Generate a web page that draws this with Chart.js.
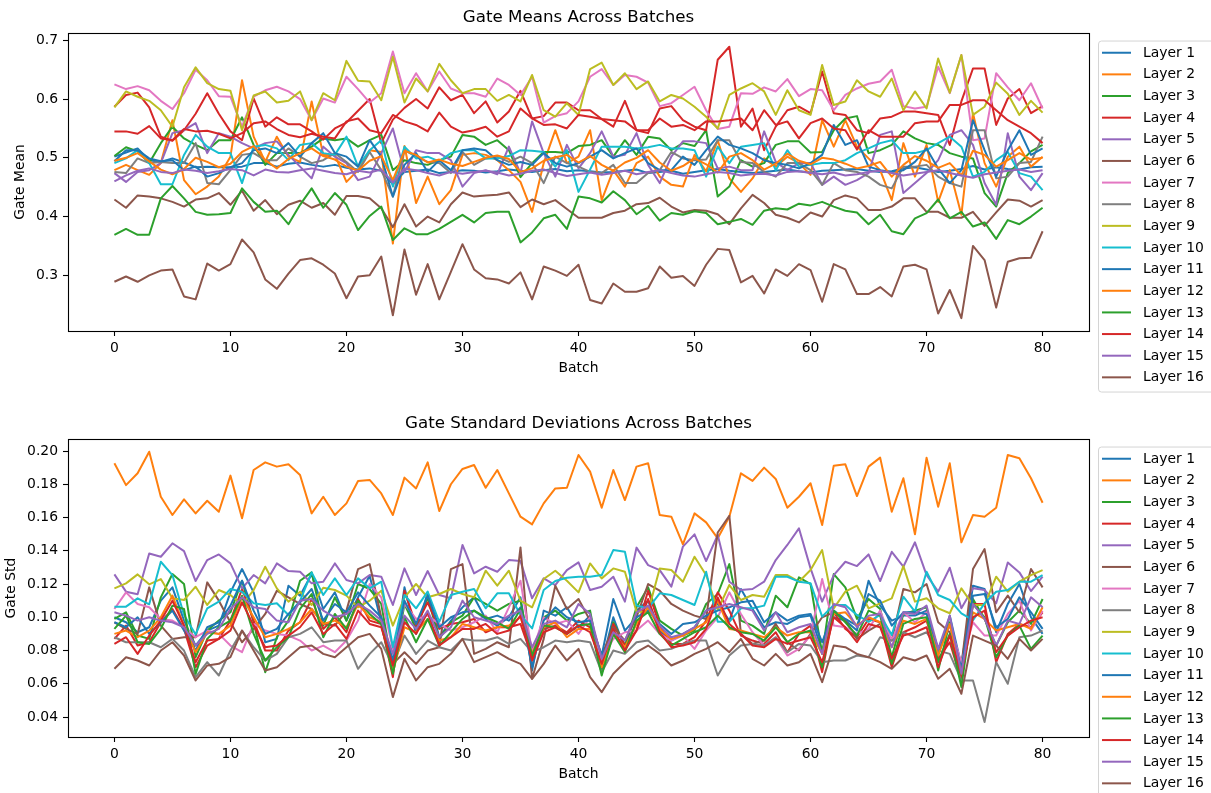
<!DOCTYPE html>
<html>
<head>
<meta charset="utf-8">
<script src="https://cdn.jsdelivr.net/npm/chart.js@4.4.1/dist/chart.umd.min.js"></script>
<style>
html, body { margin: 0; padding: 0; background: #fff; overflow: hidden; }
.panel { position: absolute; left: 0; width: 1211px; height: 406px; }
</style>
</head>
<body>
<div class="panel" style="top:0px"><canvas id="meanChart" width="1211" height="406"></canvas></div>
<div class="panel" style="top:406px"><canvas id="stdChart" width="1211" height="406"></canvas></div>
<script>
// batch index 0..80
var batches = Array.from({length: 81}, (_, i) => i);
var xTicks = [0, 10, 20, 30, 40, 50, 60, 70, 80];
var meanTicks = [0.3, 0.4, 0.5, 0.6, 0.7];
var stdTicks = [0.04, 0.06, 0.08, 0.10, 0.12, 0.14, 0.16, 0.18, 0.20];
var layerNames = ['Layer 1', 'Layer 2', 'Layer 3', 'Layer 4', 'Layer 5', 'Layer 6', 'Layer 7', 'Layer 8',
                  'Layer 9', 'Layer 10', 'Layer 11', 'Layer 12', 'Layer 13', 'Layer 14', 'Layer 15', 'Layer 16'];
var layerColors = ['#1f77b4', '#ff7f0e', '#2ca02c', '#d62728', '#9467bd', '#8c564b', '#e377c2', '#7f7f7f',
                   '#bcbd22', '#17becf', '#1f77b4', '#ff7f0e', '#2ca02c', '#d62728', '#9467bd', '#8c564b'];

// ---- gate means ----
var meanL1 = [0.502,0.509,0.516,0.496,0.493,0.499,0.492,0.484,0.485,0.484,0.484,0.485,0.491,0.491,0.485,0.490,0.492,0.488,0.485,0.488,
  0.483,0.480,0.482,0.478,0.455,0.476,0.478,0.480,0.474,0.476,0.479,0.478,0.475,0.477,0.480,0.478,0.476,0.479,0.481,0.477,0.479,
  0.477,0.475,0.476,0.478,0.480,0.474,0.476,0.478,0.473,0.476,0.479,0.481,0.478,0.476,0.474,0.476,0.478,0.480,0.477,0.475,0.478,
  0.479,0.480,0.481,0.478,0.476,0.477,0.482,0.484,0.480,0.476,0.478,0.481,0.486,0.480,0.484,0.481,0.480,0.484,0.485];
var meanL2 = [0.479,0.488,0.479,0.471,0.491,0.564,0.462,0.438,0.451,0.468,0.502,0.632,0.536,0.493,0.536,0.502,0.493,0.596,0.505,0.505,
  0.459,0.479,0.513,0.510,0.354,0.520,0.423,0.468,0.421,0.445,0.505,0.508,0.505,0.496,0.479,0.459,0.408,0.491,0.547,0.491,0.502,
  0.547,0.428,0.479,0.451,0.491,0.502,0.468,0.454,0.451,0.505,0.477,0.530,0.465,0.442,0.465,0.499,0.485,0.502,0.491,0.471,0.564,
  0.519,0.564,0.519,0.499,0.479,0.428,0.525,0.468,0.522,0.425,0.479,0.403,0.576,0.491,0.451,0.502,0.519,0.485,0.502];
var meanL3 = [0.503,0.518,0.511,0.491,0.525,0.553,0.533,0.522,0.513,0.530,0.530,0.569,0.522,0.488,0.508,0.508,0.508,0.519,0.533,0.530,
  0.533,0.519,0.530,0.539,0.479,0.496,0.491,0.488,0.496,0.502,0.539,0.536,0.522,0.530,0.513,0.467,0.491,0.510,0.510,0.508,0.520,
  0.522,0.530,0.502,0.530,0.505,0.536,0.533,0.513,0.525,0.520,0.547,0.434,0.451,0.496,0.485,0.491,0.522,0.528,0.528,0.509,0.510,
  0.547,0.567,0.571,0.508,0.513,0.522,0.545,0.533,0.525,0.522,0.508,0.502,0.499,0.440,0.417,0.474,0.491,0.511,0.522];
var meanL4 = [0.587,0.607,0.611,0.586,0.536,0.529,0.547,0.575,0.610,0.575,0.545,0.530,0.601,0.553,0.569,0.557,0.557,0.545,0.531,0.550,
  0.560,0.580,0.600,0.525,0.565,0.585,0.600,0.584,0.620,0.598,0.607,0.576,0.596,0.560,0.579,0.614,0.567,0.571,0.594,0.594,0.581,
  0.581,0.566,0.553,0.597,0.547,0.542,0.584,0.588,0.564,0.553,0.547,0.667,0.689,0.553,0.584,0.513,0.553,0.581,0.587,0.576,0.647,
  0.576,0.573,0.547,0.542,0.567,0.570,0.579,0.579,0.576,0.573,0.522,0.596,0.652,0.652,0.556,0.601,0.617,0.576,0.588];
var meanL5 = [0.474,0.459,0.476,0.479,0.491,0.542,0.547,0.559,0.508,0.542,0.536,0.525,0.516,0.525,0.528,0.505,0.485,0.465,0.519,0.502,
  0.491,0.462,0.468,0.508,0.550,0.476,0.513,0.508,0.508,0.496,0.451,0.474,0.479,0.472,0.519,0.474,0.562,0.508,0.468,0.522,0.482,
  0.508,0.545,0.502,0.505,0.542,0.488,0.457,0.502,0.528,0.528,0.525,0.482,0.485,0.479,0.479,0.545,0.493,0.479,0.491,0.491,0.454,
  0.468,0.454,0.462,0.474,0.539,0.545,0.440,0.457,0.474,0.496,0.539,0.547,0.522,0.457,0.420,0.542,0.468,0.445,0.474];
var meanL6 = [0.429,0.415,0.436,0.434,0.431,0.425,0.417,0.429,0.431,0.440,0.420,0.444,0.410,0.428,0.404,0.420,0.427,0.415,0.423,0.403,
  0.435,0.435,0.431,0.414,0.382,0.421,0.383,0.400,0.390,0.421,0.441,0.434,0.436,0.437,0.441,0.416,0.429,0.421,0.428,0.413,0.398,
  0.398,0.398,0.406,0.410,0.421,0.423,0.432,0.417,0.407,0.411,0.410,0.404,0.387,0.414,0.437,0.423,0.403,0.398,0.390,0.407,0.400,
  0.428,0.436,0.431,0.411,0.411,0.417,0.431,0.431,0.408,0.408,0.398,0.398,0.408,0.384,0.407,0.429,0.427,0.417,0.428];
var meanL7 = [0.625,0.617,0.622,0.615,0.597,0.583,0.610,0.650,0.632,0.605,0.604,0.553,0.604,0.615,0.621,0.613,0.600,0.564,0.601,0.594,
  0.638,0.617,0.594,0.610,0.681,0.610,0.644,0.613,0.647,0.618,0.610,0.610,0.604,0.635,0.624,0.607,0.638,0.560,0.571,0.576,0.596,
  0.638,0.651,0.624,0.641,0.638,0.628,0.588,0.593,0.607,0.621,0.581,0.549,0.553,0.610,0.609,0.620,0.613,0.634,0.605,0.617,0.615,
  0.581,0.607,0.618,0.626,0.630,0.650,0.588,0.584,0.587,0.655,0.610,0.675,0.530,0.533,0.644,0.620,0.598,0.627,0.584];
var meanL8 = [0.476,0.474,0.499,0.491,0.493,0.491,0.491,0.525,0.457,0.455,0.479,0.505,0.508,0.496,0.496,0.516,0.502,0.491,0.496,0.508,
  0.493,0.476,0.510,0.479,0.434,0.513,0.502,0.493,0.491,0.474,0.510,0.488,0.499,0.502,0.493,0.502,0.491,0.457,0.502,0.491,0.485,
  0.476,0.474,0.488,0.457,0.457,0.474,0.479,0.510,0.499,0.496,0.497,0.530,0.530,0.493,0.491,0.476,0.468,0.491,0.491,0.479,0.454,
  0.491,0.479,0.476,0.468,0.454,0.448,0.485,0.485,0.488,0.468,0.457,0.451,0.547,0.547,0.465,0.468,0.491,0.493,0.536];
var meanL9 = [0.586,0.613,0.604,0.597,0.581,0.553,0.620,0.654,0.627,0.617,0.614,0.547,0.606,0.613,0.594,0.597,0.613,0.564,0.610,0.598,
  0.665,0.631,0.630,0.598,0.672,0.594,0.635,0.613,0.660,0.632,0.610,0.617,0.617,0.597,0.607,0.596,0.641,0.581,0.570,0.593,0.573,
  0.651,0.662,0.624,0.644,0.617,0.630,0.596,0.607,0.601,0.587,0.570,0.550,0.607,0.618,0.627,0.613,0.573,0.615,0.581,0.573,0.658,
  0.590,0.596,0.632,0.613,0.604,0.635,0.581,0.613,0.584,0.669,0.611,0.675,0.573,0.587,0.628,0.609,0.573,0.597,0.577];
var meanL10 = [0.491,0.499,0.513,0.491,0.455,0.455,0.505,0.539,0.519,0.508,0.508,0.457,0.519,0.522,0.516,0.496,0.522,0.525,0.508,0.505,
  0.536,0.485,0.513,0.530,0.451,0.519,0.499,0.502,0.494,0.508,0.513,0.513,0.499,0.499,0.503,0.513,0.512,0.510,0.485,0.513,0.442,
  0.480,0.519,0.519,0.519,0.516,0.518,0.522,0.516,0.516,0.513,0.468,0.519,0.491,0.519,0.522,0.525,0.479,0.513,0.485,0.488,0.491,
  0.491,0.496,0.508,0.516,0.525,0.530,0.508,0.508,0.513,0.525,0.536,0.519,0.468,0.476,0.496,0.510,0.474,0.468,0.445];
var meanL11 = [0.494,0.513,0.513,0.499,0.494,0.496,0.479,0.485,0.468,0.474,0.484,0.491,0.513,0.516,0.508,0.525,0.502,0.525,0.542,0.508,
  0.502,0.485,0.530,0.502,0.434,0.488,0.508,0.476,0.496,0.479,0.513,0.516,0.513,0.496,0.488,0.493,0.488,0.508,0.491,0.485,0.491,
  0.502,0.513,0.499,0.508,0.516,0.491,0.479,0.479,0.502,0.488,0.513,0.536,0.522,0.516,0.508,0.496,0.491,0.488,0.482,0.491,0.505,
  0.556,0.522,0.530,0.485,0.479,0.476,0.479,0.493,0.516,0.482,0.457,0.479,0.564,0.513,0.468,0.513,0.547,0.505,0.516];
var meanL12 = [0.495,0.500,0.508,0.494,0.480,0.472,0.481,0.500,0.493,0.484,0.490,0.510,0.520,0.496,0.482,0.498,0.508,0.516,0.503,0.497,
  0.485,0.478,0.495,0.503,0.462,0.512,0.505,0.492,0.497,0.490,0.486,0.493,0.500,0.504,0.498,0.476,0.482,0.495,0.501,0.505,0.492,
  0.503,0.488,0.478,0.492,0.500,0.513,0.492,0.478,0.486,0.499,0.489,0.475,0.502,0.508,0.496,0.480,0.490,0.507,0.495,0.489,0.500,
  0.497,0.490,0.482,0.486,0.493,0.468,0.488,0.503,0.495,0.483,0.491,0.470,0.512,0.505,0.485,0.496,0.508,0.497,0.500];
var meanL13 = [0.369,0.379,0.369,0.369,0.431,0.452,0.431,0.408,0.403,0.404,0.406,0.448,0.425,0.408,0.410,0.387,0.420,0.448,0.415,0.440,
  0.420,0.377,0.401,0.417,0.360,0.380,0.370,0.370,0.379,0.391,0.403,0.390,0.406,0.408,0.408,0.356,0.373,0.397,0.403,0.379,0.434,
  0.431,0.424,0.443,0.428,0.404,0.418,0.393,0.406,0.403,0.409,0.406,0.387,0.391,0.396,0.386,0.410,0.414,0.412,0.422,0.419,0.425,
  0.417,0.410,0.407,0.387,0.403,0.375,0.370,0.397,0.406,0.429,0.397,0.408,0.383,0.390,0.362,0.394,0.387,0.400,0.415];
var meanL14 = [0.545,0.545,0.541,0.554,0.533,0.530,0.549,0.545,0.546,0.541,0.533,0.542,0.559,0.562,0.549,0.539,0.535,0.541,0.536,0.533,
  0.562,0.567,0.547,0.542,0.573,0.562,0.556,0.545,0.577,0.553,0.543,0.547,0.553,0.536,0.545,0.584,0.567,0.556,0.557,0.550,0.573,
  0.570,0.566,0.564,0.562,0.547,0.547,0.567,0.553,0.556,0.547,0.562,0.562,0.564,0.567,0.547,0.581,0.556,0.562,0.533,0.559,0.567,
  0.550,0.547,0.514,0.547,0.536,0.536,0.536,0.559,0.562,0.562,0.590,0.590,0.598,0.598,0.581,0.564,0.553,0.542,0.525];
var meanL15 = [0.460,0.470,0.478,0.482,0.476,0.474,0.480,0.478,0.474,0.477,0.481,0.479,0.470,0.480,0.476,0.475,0.479,0.482,0.478,0.474,
  0.472,0.478,0.475,0.480,0.458,0.482,0.479,0.474,0.470,0.476,0.473,0.476,0.478,0.475,0.470,0.473,0.478,0.480,0.474,0.469,0.472,
  0.475,0.471,0.474,0.478,0.472,0.476,0.479,0.474,0.470,0.468,0.472,0.476,0.474,0.470,0.472,0.473,0.470,0.476,0.477,0.474,0.472,
  0.475,0.470,0.472,0.476,0.478,0.474,0.470,0.473,0.476,0.479,0.474,0.470,0.466,0.472,0.475,0.478,0.480,0.476,0.479];
var meanL16 = [0.289,0.298,0.289,0.300,0.308,0.310,0.264,0.259,0.320,0.308,0.319,0.361,0.339,0.293,0.277,0.303,0.326,0.329,0.318,0.303,
  0.261,0.298,0.300,0.332,0.232,0.344,0.267,0.319,0.259,0.306,0.353,0.310,0.295,0.293,0.286,0.305,0.259,0.315,0.308,0.299,0.318,
  0.258,0.252,0.286,0.272,0.272,0.278,0.315,0.296,0.299,0.282,0.318,0.345,0.343,0.288,0.299,0.269,0.310,0.299,0.319,0.309,0.255,
  0.319,0.310,0.268,0.268,0.280,0.264,0.315,0.318,0.310,0.235,0.275,0.227,0.350,0.326,0.245,0.323,0.329,0.330,0.375];

// ---- gate standard deviations ----
var stdL1 = [0.100,0.097,0.091,0.094,0.110,0.118,0.098,0.083,0.092,0.095,0.115,0.129,0.115,0.085,0.087,0.119,0.113,0.126,0.105,0.115,
  0.098,0.112,0.125,0.097,0.070,0.118,0.090,0.115,0.088,0.098,0.106,0.112,0.099,0.095,0.100,0.112,0.068,0.104,0.101,0.106,0.094,
  0.101,0.072,0.100,0.081,0.104,0.110,0.092,0.086,0.090,0.094,0.104,0.108,0.098,0.117,0.105,0.094,0.097,0.096,0.100,0.101,0.080,
  0.100,0.098,0.092,0.122,0.107,0.098,0.101,0.101,0.104,0.077,0.101,0.071,0.119,0.117,0.091,0.108,0.120,0.100,0.090];
var stdL2 = [0.1926,0.1795,0.1866,0.1996,0.1725,0.1615,0.1709,0.1625,0.1701,0.1635,0.1852,0.1595,0.1886,0.1932,0.1906,0.1920,0.1856,0.1625,0.1725,0.1615,
  0.1685,0.1820,0.1826,0.1745,0.1615,0.1840,0.1775,0.1932,0.1639,0.1800,0.1892,0.1916,0.1779,0.1886,0.1745,0.1605,0.1559,0.1685,0.1775,0.1779,0.1976,
  0.1876,0.1659,0.1886,0.1705,0.1906,0.1926,0.1615,0.1605,0.1439,0.1625,0.1571,0.1475,0.1605,0.1866,0.1820,0.1900,0.1832,0.1659,0.1725,0.1806,0.1555,
  0.1912,0.1920,0.1729,0.1906,0.1960,0.1635,0.1836,0.1499,0.1960,0.1665,0.1926,0.1451,0.1615,0.1605,0.1659,0.1976,0.1956,0.1836,0.1689];
var stdL3 = [0.099,0.103,0.089,0.087,0.112,0.126,0.120,0.076,0.092,0.098,0.103,0.122,0.097,0.067,0.088,0.098,0.122,0.127,0.095,0.112,
  0.098,0.120,0.117,0.108,0.068,0.108,0.093,0.112,0.087,0.097,0.101,0.112,0.108,0.104,0.108,0.110,0.074,0.100,0.104,0.098,0.102,
  0.104,0.068,0.097,0.083,0.106,0.118,0.098,0.093,0.089,0.092,0.108,0.114,0.132,0.098,0.095,0.090,0.113,0.106,0.124,0.120,0.078,
  0.126,0.118,0.099,0.111,0.105,0.076,0.102,0.104,0.106,0.068,0.097,0.061,0.111,0.099,0.083,0.097,0.104,0.096,0.111];
var stdL4 = [0.087,0.095,0.083,0.085,0.097,0.105,0.093,0.070,0.083,0.087,0.098,0.117,0.098,0.080,0.080,0.092,0.097,0.111,0.093,0.100,
  0.091,0.111,0.098,0.096,0.064,0.116,0.095,0.109,0.093,0.096,0.097,0.099,0.091,0.094,0.094,0.096,0.076,0.093,0.095,0.091,0.098,
  0.094,0.070,0.096,0.083,0.092,0.116,0.095,0.084,0.084,0.088,0.098,0.115,0.104,0.089,0.086,0.084,0.091,0.079,0.090,0.095,0.067,
  0.103,0.093,0.088,0.099,0.097,0.070,0.091,0.094,0.098,0.075,0.085,0.062,0.108,0.108,0.073,0.090,0.096,0.094,0.103];
var stdL5 = [0.1258,0.1154,0.1138,0.1384,0.1364,0.1445,0.1398,0.1218,0.1344,0.1378,0.1324,0.1174,0.1254,0.1204,0.1324,0.1278,0.1274,0.1204,0.1214,0.1324,
  0.1224,0.1204,0.1254,0.1244,0.1074,0.1294,0.1134,0.1278,0.1134,0.1114,0.1435,0.1264,0.1304,0.1274,0.1344,0.1338,0.1114,0.1234,0.1194,0.1284,0.1330,
  0.1164,0.1184,0.1244,0.1094,0.1419,0.1314,0.1284,0.1184,0.1425,0.1499,0.1338,0.1495,0.1214,0.1164,0.1170,0.1214,0.1344,0.1435,0.1535,0.1294,0.1094,
  0.1254,0.1334,0.1308,0.1378,0.1218,0.1394,0.1304,0.1451,0.1254,0.1154,0.1298,0.1054,0.1174,0.1164,0.1084,0.1330,0.1270,0.1158,0.1244];
var stdL6 = [0.097,0.093,0.090,0.118,0.095,0.087,0.088,0.088,0.121,0.110,0.097,0.085,0.093,0.102,0.116,0.112,0.108,0.105,0.096,0.095,
  0.104,0.129,0.132,0.100,0.072,0.079,0.072,0.080,0.082,0.129,0.132,0.078,0.081,0.085,0.082,0.142,0.063,0.087,0.119,0.105,0.111,
  0.098,0.077,0.094,0.086,0.100,0.120,0.116,0.108,0.104,0.101,0.099,0.151,0.161,0.090,0.084,0.086,0.096,0.085,0.080,0.090,0.100,
  0.103,0.098,0.087,0.092,0.096,0.086,0.117,0.115,0.120,0.097,0.091,0.071,0.129,0.141,0.103,0.113,0.103,0.129,0.118];
var stdL7 = [0.105,0.115,0.108,0.106,0.099,0.098,0.094,0.088,0.092,0.090,0.083,0.079,0.096,0.092,0.090,0.089,0.086,0.080,0.083,0.079,
  0.086,0.098,0.120,0.112,0.081,0.108,0.099,0.101,0.096,0.092,0.094,0.097,0.101,0.091,0.106,0.122,0.079,0.100,0.096,0.098,0.090,
  0.100,0.074,0.087,0.091,0.092,0.098,0.090,0.086,0.089,0.081,0.092,0.100,0.115,0.102,0.091,0.083,0.088,0.077,0.081,0.089,0.123,
  0.095,0.094,0.090,0.093,0.104,0.086,0.103,0.097,0.103,0.081,0.095,0.073,0.097,0.089,0.089,0.102,0.110,0.092,0.104];
var stdL8 = [0.088,0.085,0.085,0.085,0.082,0.087,0.080,0.064,0.073,0.065,0.080,0.092,0.082,0.074,0.078,0.088,0.090,0.094,0.085,0.086,
  0.086,0.069,0.078,0.085,0.071,0.089,0.078,0.086,0.082,0.080,0.087,0.086,0.086,0.088,0.084,0.087,0.079,0.082,0.086,0.085,0.086,
  0.085,0.067,0.080,0.078,0.085,0.086,0.080,0.081,0.084,0.086,0.086,0.065,0.077,0.083,0.084,0.083,0.088,0.079,0.084,0.083,0.073,
  0.074,0.074,0.077,0.076,0.088,0.086,0.091,0.088,0.091,0.080,0.078,0.062,0.062,0.037,0.073,0.060,0.088,0.089,0.092];
var stdL9 = [0.1174,0.1204,0.1258,0.1198,0.1230,0.1114,0.1104,0.1184,0.1074,0.1164,0.1134,0.1074,0.1164,0.1304,0.1174,0.1094,0.1154,0.1074,0.1178,0.1164,
  0.113,0.106,0.110,0.116,0.095,0.112,0.120,0.112,0.114,0.117,0.114,0.112,0.128,0.119,0.128,0.110,0.106,0.123,0.128,0.122,0.115,
  0.1324,0.1234,0.1294,0.1274,0.1034,0.1034,0.1294,0.1284,0.1214,0.1364,0.1254,0.1044,0.1194,0.1104,0.1134,0.1124,0.1254,0.1254,0.1214,0.1284,0.1404,
  0.1054,0.1154,0.1190,0.1054,0.1084,0.1114,0.1308,0.1094,0.1114,0.1054,0.1024,0.1174,0.1074,0.1074,0.1244,0.1154,0.1214,0.1254,0.1284];
var stdL10 = [0.1064,0.1064,0.1114,0.1078,0.1334,0.1254,0.1014,0.0897,0.1054,0.1094,0.1170,0.1154,0.1084,0.1074,0.1084,0.1014,0.1098,0.1270,0.1134,0.1234,
  0.1134,0.1234,0.1174,0.1214,0.0820,0.1134,0.1054,0.1154,0.0973,0.1134,0.1154,0.1170,0.1054,0.1144,0.1144,0.1014,0.0933,0.1164,0.1218,0.1238,0.1244,
  0.1244,0.1254,0.1404,0.1394,0.1070,0.1054,0.1144,0.1134,0.1104,0.1074,0.1274,0.0973,0.0973,0.1054,0.1054,0.1070,0.1244,0.1244,0.1214,0.1204,0.1004,
  0.1074,0.1074,0.1014,0.0973,0.1014,0.0893,0.1124,0.1034,0.1274,0.1134,0.1104,0.1024,0.0983,0.1084,0.1154,0.1164,0.1214,0.1214,0.1254];
var stdL11 = [0.097,0.094,0.100,0.090,0.097,0.104,0.092,0.080,0.094,0.097,0.107,0.122,0.104,0.090,0.093,0.102,0.109,0.117,0.098,0.108,
  0.103,0.115,0.107,0.100,0.074,0.110,0.096,0.113,0.094,0.100,0.103,0.104,0.099,0.101,0.098,0.106,0.070,0.098,0.106,0.100,0.097,
  0.098,0.077,0.111,0.092,0.100,0.104,0.096,0.090,0.096,0.097,0.101,0.104,0.106,0.109,0.110,0.097,0.103,0.098,0.101,0.102,0.085,
  0.104,0.099,0.095,0.114,0.110,0.095,0.103,0.103,0.102,0.081,0.096,0.069,0.113,0.114,0.094,0.099,0.112,0.103,0.093];
var stdL12 = [0.090,0.092,0.088,0.092,0.100,0.113,0.095,0.079,0.091,0.090,0.095,0.112,0.100,0.088,0.090,0.093,0.097,0.105,0.096,0.098,
  0.094,0.108,0.100,0.097,0.067,0.094,0.091,0.099,0.086,0.088,0.096,0.094,0.092,0.094,0.095,0.100,0.078,0.094,0.097,0.088,0.093,
  0.093,0.070,0.090,0.082,0.096,0.106,0.093,0.087,0.089,0.093,0.097,0.110,0.093,0.092,0.090,0.088,0.094,0.089,0.091,0.091,0.078,
  0.102,0.103,0.095,0.100,0.097,0.082,0.098,0.096,0.099,0.077,0.096,0.066,0.103,0.099,0.092,0.094,0.096,0.093,0.106];
var stdL13 = [0.093,0.101,0.085,0.084,0.093,0.107,0.105,0.066,0.087,0.094,0.098,0.113,0.090,0.074,0.082,0.088,0.105,0.114,0.088,0.102,
  0.093,0.110,0.102,0.096,0.066,0.100,0.085,0.099,0.083,0.091,0.099,0.104,0.100,0.097,0.093,0.105,0.077,0.095,0.094,0.090,0.095,
  0.096,0.065,0.090,0.079,0.098,0.103,0.090,0.083,0.087,0.091,0.094,0.101,0.094,0.091,0.090,0.086,0.094,0.085,0.090,0.092,0.070,
  0.104,0.097,0.089,0.104,0.101,0.072,0.096,0.099,0.100,0.073,0.090,0.058,0.108,0.100,0.076,0.089,0.095,0.081,0.089];
var stdL14 = [0.084,0.088,0.078,0.089,0.098,0.110,0.095,0.073,0.086,0.087,0.092,0.109,0.095,0.082,0.083,0.089,0.094,0.103,0.090,0.096,
  0.087,0.104,0.096,0.094,0.071,0.097,0.090,0.103,0.083,0.088,0.093,0.093,0.096,0.090,0.092,0.101,0.074,0.091,0.094,0.090,0.095,
  0.091,0.072,0.093,0.080,0.092,0.111,0.091,0.082,0.083,0.085,0.093,0.112,0.096,0.090,0.083,0.082,0.087,0.084,0.086,0.088,0.073,
  0.100,0.094,0.085,0.096,0.094,0.075,0.089,0.091,0.094,0.070,0.089,0.066,0.100,0.104,0.079,0.089,0.094,0.098,0.100];
var stdL15 = [0.103,0.101,0.098,0.100,0.098,0.097,0.094,0.083,0.090,0.093,0.105,0.112,0.106,0.105,0.098,0.097,0.110,0.111,0.104,0.100,
  0.102,0.108,0.104,0.098,0.078,0.101,0.093,0.104,0.088,0.094,0.110,0.100,0.098,0.096,0.101,0.104,0.082,0.096,0.098,0.094,0.108,
  0.102,0.075,0.091,0.086,0.103,0.107,0.095,0.088,0.090,0.094,0.104,0.106,0.108,0.106,0.104,0.092,0.103,0.091,0.094,0.096,0.078,
  0.108,0.106,0.094,0.101,0.102,0.082,0.103,0.102,0.107,0.081,0.101,0.066,0.108,0.099,0.083,0.098,0.096,0.112,0.106];
var stdL16 = [0.069,0.076,0.074,0.071,0.080,0.085,0.077,0.062,0.071,0.072,0.076,0.092,0.080,0.068,0.070,0.076,0.082,0.083,0.078,0.076,
  0.082,0.088,0.090,0.081,0.052,0.075,0.062,0.070,0.072,0.078,0.087,0.073,0.076,0.079,0.075,0.072,0.063,0.072,0.083,0.074,0.081,
  0.064,0.055,0.066,0.073,0.079,0.083,0.078,0.071,0.074,0.078,0.081,0.085,0.079,0.087,0.075,0.071,0.078,0.071,0.073,0.078,0.061,
  0.083,0.082,0.078,0.076,0.073,0.069,0.076,0.074,0.077,0.063,0.069,0.054,0.089,0.086,0.083,0.075,0.087,0.080,0.087];

var meanSeries = [meanL1, meanL2, meanL3, meanL4, meanL5, meanL6, meanL7, meanL8,
                  meanL9, meanL10, meanL11, meanL12, meanL13, meanL14, meanL15, meanL16];
var stdSeries = [stdL1, stdL2, stdL3, stdL4, stdL5, stdL6, stdL7, stdL8,
                 stdL9, stdL10, stdL11, stdL12, stdL13, stdL14, stdL15, stdL16];

meanSeries.concat(stdSeries).forEach(function (s, k) {
  if (s.length !== batches.length) throw new Error('series ' + k + ' has ' + s.length + ' points');
});

Chart.defaults.font.family = '"DejaVu Sans", sans-serif';
Chart.defaults.font.size = 13.9;
Chart.defaults.color = '#000';

// matplotlib-like box around the axes plus the boxed legend on the right
var axesFrame = {
  id: 'axesFrame',
  afterDraw: function (chart) {
    var ctx = chart.ctx, a = chart.chartArea;
    ctx.save();
    ctx.strokeStyle = '#000';
    ctx.lineWidth = 1.1;
    ctx.strokeRect(Math.round(a.left) + 0.5, Math.round(a.top) + 0.5,
                   Math.round(a.right - a.left), Math.round(a.bottom - a.top));

    var lx = a.right + 9, ly = a.top + 7.5;
    ctx.beginPath();
    if (ctx.roundRect) ctx.roundRect(lx + 0.5, ly + 0.5, 140, 351, 3);
    else ctx.rect(lx + 0.5, ly + 0.5, 140, 351);
    ctx.fillStyle = 'rgba(255,255,255,0.8)';
    ctx.fill();
    ctx.strokeStyle = '#d4d4d4';
    ctx.lineWidth = 1;
    ctx.stroke();

    ctx.font = '13.9px "DejaVu Sans"';
    ctx.textBaseline = 'middle';
    ctx.textAlign = 'left';
    chart.data.datasets.forEach(function (ds, i) {
      var y = a.top + 19.7 + i * 21.64;
      ctx.strokeStyle = ds.borderColor;
      ctx.lineWidth = 2;
      ctx.beginPath();
      ctx.moveTo(a.right + 13, y);
      ctx.lineTo(a.right + 42, y);
      ctx.stroke();
      ctx.fillStyle = '#000';
      ctx.fillText(ds.label, a.right + 54, y + 0.5);
    });
    ctx.restore();
  }
};

function buildDatasets(series) {
  return series.map(function (vals, i) {
    return {
      label: layerNames[i],
      data: vals.map(function (v, j) { return {x: batches[j], y: v}; }),
      borderColor: layerColors[i],
      backgroundColor: layerColors[i],
      borderWidth: 2,
      borderJoinStyle: 'round',
      pointRadius: 0,
      tension: 0,
      fill: false,
      order: series.length - i
    };
  });
}

function buildChart(id, title, series, yMin, yMax, yTicks, digits, yLabel, yLabelPad) {
  return new Chart(document.getElementById(id), {
    type: 'line',
    data: {datasets: buildDatasets(series)},
    options: {
      responsive: false,
      animation: false,
      devicePixelRatio: 1,
      layout: {padding: {left: 0, right: 122, top: 0, bottom: 0}},
      plugins: {
        legend: {display: false},
        tooltip: {enabled: false},
        title: {
          display: true, text: title, fullSize: false, color: '#000',
          font: {size: 16.7, weight: 'normal'},
          padding: {top: 8, bottom: 5}
        }
      },
      scales: {
        x: {
          type: 'linear', min: -4, max: 84,
          afterBuildTicks: function (ax) { ax.ticks = xTicks.map(function (v) { return {value: v}; }); },
          afterFit: function (ax) { ax.height = 75; },
          ticks: {autoSkip: false, maxRotation: 0, padding: 4, color: '#000'},
          grid: {drawOnChartArea: false, drawTicks: true, tickLength: 5, tickColor: '#000', tickWidth: 1.1},
          border: {display: false},
          title: {display: true, text: 'Batch', color: '#000', padding: {top: 0, bottom: 29}}
        },
        y: {
          type: 'linear', min: yMin, max: yMax,
          afterBuildTicks: function (ax) { ax.ticks = yTicks.map(function (v) { return {value: v}; }); },
          afterFit: function (ax) { ax.width = 68; },
          ticks: {
            autoSkip: false, padding: 5, color: '#000',
            callback: function (v) { return Number(v).toFixed(digits); }
          },
          grid: {drawOnChartArea: false, drawTicks: true, tickLength: 5, tickColor: '#000', tickWidth: 1.1},
          border: {display: false},
          title: {display: true, text: yLabel, color: '#000', padding: {top: yLabelPad, bottom: 0}}
        }
      }
    },
    plugins: [axesFrame]
  });
}

buildChart('meanChart', 'Gate Means Across Batches', meanSeries, 0.2052, 0.7124, meanTicks, 1, 'Gate Mean', 11.6);
buildChart('stdChart', 'Gate Standard Deviations Across Batches', stdSeries, 0.0280, 0.2072, stdTicks, 2, 'Gate Std', 3.2);
</script>
</body>
</html>
